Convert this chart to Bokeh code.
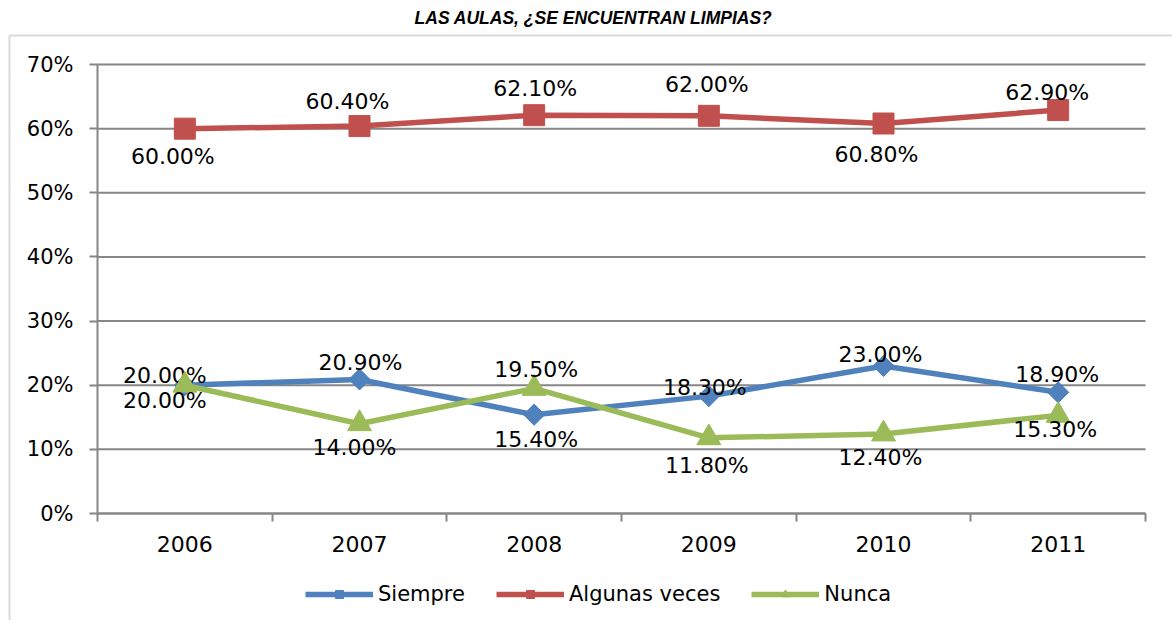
from bokeh.plotting import figure
from bokeh.models import (FixedTicker, ColumnDataSource, Legend, LegendItem,
                          BoxAnnotation, Label)
from bokeh.core.properties import value
from bokeh.embed import file_html
from bokeh.resources import INLINE
import math

# ---- data ----
years = [2006, 2007, 2008, 2009, 2010, 2011]
year_labels = ["2006", "2007", "2008", "2009", "2010", "2011"]
siempre = [0.200, 0.209, 0.154, 0.183, 0.230, 0.189]
algunas = [0.600, 0.604, 0.621, 0.620, 0.608, 0.629]
nunca = [0.200, 0.140, 0.195, 0.118, 0.124, 0.153]
ytick_values = [0.0, 0.1, 0.2, 0.3, 0.4, 0.5, 0.6, 0.7]
ytick_labels = ["0%", "10%", "20%", "30%", "40%", "50%", "60%", "70%"]
title_text = "LAS AULAS, ¿SE ENCUENTRAN LIMPIAS?"

# ---- layout (pixels) ----
FONT = "DejaVu Sans"
GRID = "#868686"
W, H = 1172, 620
PL, PR, PT, PB = 97, 1145, 64, 513          # plot area in canvas px
X0, X1 = years[0] - 0.5, years[-1] + 0.5    # category band bounds
Y0, Y1 = ytick_values[0], ytick_values[-1]
kx = (PR - PL) / (X1 - X0)
ky = (PB - PT) / (Y1 - Y0)
x_start, x_end = X0 - PL / kx, X1 + (W - PR) / kx
y_start, y_end = Y0 - (H - PB) / ky, Y1 + PT / ky


def px_x(px):
    return x_start + px / kx


def px_y(py):
    return y_end - py / ky


p = figure(width=W, height=H, output_backend="svg", toolbar_location=None,
           x_range=(x_start, x_end), y_range=(y_start, y_end),
           min_border_left=0, min_border_right=0, min_border_top=0,
           min_border_bottom=0)
p.title.visible = False
p.outline_line_color = None
p.background_fill_color = "white"
p.border_fill_color = "white"

# outer chart frame (left + top visible)
p.add_layout(BoxAnnotation(left=px_x(9), right=x_end + 1, top=px_y(35),
                           bottom=y_start - 1, fill_color=None, fill_alpha=0,
                           line_color=GRID, line_width=2, level="underlay"))

p.add_layout(Label(x=px_x(593), y=px_y(17), text=title_text,
                   text_font="Liberation Sans", text_font_size="17.5px",
                   text_font_style="bold italic", text_color="#000000",
                   text_align="center", text_baseline="middle"))

# horizontal gridlines over the plot area
p.segment(x0=[X0] * len(ytick_values), x1=[X1] * len(ytick_values),
          y0=ytick_values, y1=ytick_values, line_color=GRID, line_width=2)
p.xgrid.grid_line_color = None
p.ygrid.grid_line_color = None

# axes
p.xaxis.fixed_location = Y0
p.xaxis.bounds = (X0, X1)
p.xaxis.ticker = FixedTicker(ticks=years,
                             minor_ticks=[y - 0.5 for y in years] + [years[-1] + 0.5])
p.xaxis.major_label_overrides = {y: l for y, l in zip(years, year_labels)}
p.xaxis.major_tick_line_color = None
p.xaxis.major_tick_out = 0
p.xaxis.major_tick_in = 0
p.xaxis.minor_tick_line_color = GRID
p.xaxis.minor_tick_line_width = 2
p.xaxis.minor_tick_out = 8
p.xaxis.minor_tick_in = 0
p.xaxis.axis_line_color = GRID
p.xaxis.axis_line_width = 2
p.xaxis.major_label_text_font = FONT
p.xaxis.major_label_text_font_size = "22px"
p.xaxis.major_label_text_color = "#000000"
p.xaxis.major_label_standoff = 14

p.yaxis.fixed_location = X0
p.yaxis.bounds = (Y0, Y1)
p.yaxis.ticker = FixedTicker(ticks=ytick_values)
p.yaxis.major_label_overrides = {v: l for v, l in zip(ytick_values, ytick_labels)}
p.yaxis.minor_tick_line_color = None
p.yaxis.major_tick_line_color = GRID
p.yaxis.major_tick_line_width = 2
p.yaxis.major_tick_out = 8
p.yaxis.major_tick_in = 0
p.yaxis.axis_line_color = GRID
p.yaxis.axis_line_width = 2
p.yaxis.major_label_text_font = FONT
p.yaxis.major_label_text_font_size = "21px"
p.yaxis.major_label_text_color = "#000000"
p.yaxis.major_label_standoff = 16

series = [
    ("Siempre", siempre, "#4F81BD", "square", 15, math.pi / 4,
     [-20, 1, 2, -4, -3, -1], [-10, -17, 25, -9, -11, -18]),
    ("Algunas veces", algunas, "#C0504D", "square", 21, 0,
     [-12, -12, 1, -2, -7, -11], [28, -25, -27, -31, 31, -18]),
    ("Nunca", nunca, "#9BBB59", "triangle", 24, 0,
     [-20, -5, 2, -2, -3, -3], [15, 24, -19, 28, 24, 14]),
]

items = []
for name, vals, color, marker, size, ang, dx, dy in series:
    src = ColumnDataSource(dict(
        x=years, y=vals,
        lab=[f"{v * 100:.2f}%" for v in vals],
        dx=dx, dy=dy,
    ))
    r1 = p.line("x", "y", source=src, line_color=color, line_width=5.5)
    r2 = p.scatter("x", "y", source=src, marker=marker, size=size, angle=ang,
                   fill_color=color, line_color=color)
    p.text("x", "y", text="lab", source=src, x_offset="dx", y_offset="dy",
           text_font=value(FONT), text_font_size="22px", text_color="#000000",
           text_align="center", text_baseline="middle")
    items.append(LegendItem(label=name, renderers=[r1, r2]))

legend = Legend(items=items, orientation="horizontal", location=(305, 14),
                label_text_font=FONT, label_text_font_size="21px",
                label_text_color="#000000", glyph_width=68, glyph_height=20,
                label_standoff=5, spacing=31, border_line_color=None,
                background_fill_alpha=0, padding=0, margin=0)
p.add_layout(legend, "center")

open("out.html", "w").write(file_html(p, INLINE))
